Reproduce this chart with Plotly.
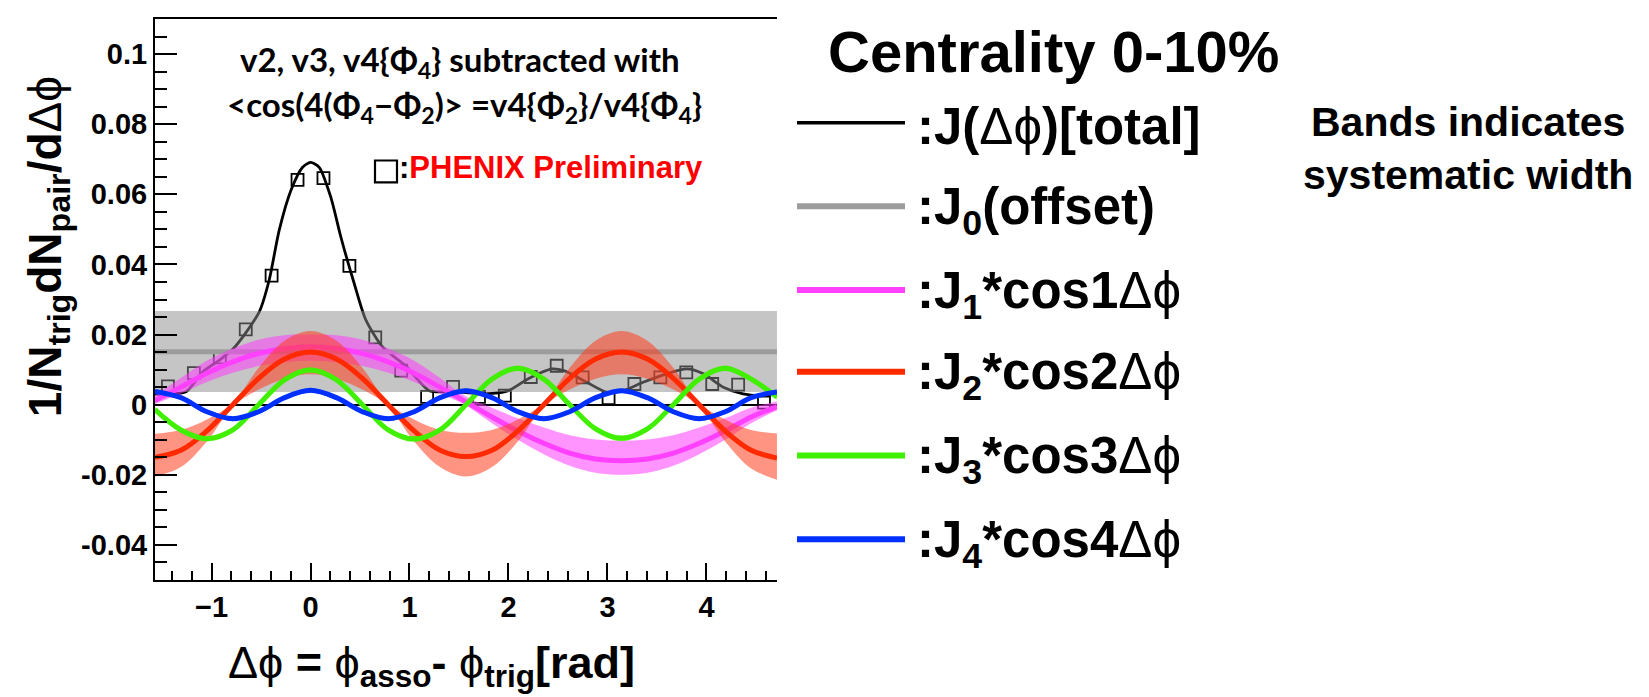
import plotly.graph_objects as go

# ---------------- data ----------------
DPHI = [-1.571, -1.309, -1.047, -0.785, -0.524, -0.262, 0.0, 0.262, 0.524, 0.785,
        1.047, 1.309, 1.571, 1.833, 2.094, 2.356, 2.618, 2.880, 3.142, 3.403,
        3.665, 3.927, 4.189, 4.451, 4.712]

# J1*cos1dphi (magenta) and its systematic band
J1 = [0.0012, 0.005, 0.009, 0.0122, 0.0146, 0.016, 0.0165, 0.016, 0.0146, 0.0122,
      0.009, 0.005, 0.0008, -0.0035, -0.0075, -0.011, -0.0138, -0.0155, -0.016, -0.0155,
      -0.0138, -0.011, -0.0075, -0.0035, -0.0006]
J1_UP = [0.0027, 0.0076, 0.0125, 0.016, 0.0185, 0.0198, 0.020, 0.0198, 0.0185, 0.016,
         0.0125, 0.0076, 0.0023, -0.0009, -0.0039, -0.0065, -0.0087, -0.0099, -0.0103, -0.0099,
         -0.0087, -0.0065, -0.0039, -0.0009, 0.0009]
J1_LO = [0.0002, 0.0032, 0.0065, 0.0091, 0.011, 0.0121, 0.0125, 0.0121, 0.011, 0.0091,
         0.0065, 0.0032, -0.0002, -0.0053, -0.010, -0.0141, -0.0174, -0.0194, -0.020, -0.0194,
         -0.0174, -0.0141, -0.010, -0.0053, -0.0016]

# J2*cos2dphi (red) and its systematic band
J2 = [-0.015, -0.013, -0.0075, 0.0, 0.0075, 0.013, 0.015, 0.013, 0.0075, 0.0,
      -0.0075, -0.013, -0.0148, -0.013, -0.0075, 0.0, 0.0075, 0.013, 0.015, 0.013,
      0.0075, 0.0, -0.0075, -0.013, -0.0152]
J2_UP = [-0.0083, -0.0072, -0.0042, 0.0005, 0.0105, 0.0182, 0.021, 0.0182, 0.0105, 0.0005,
         -0.0042, -0.0072, -0.008, -0.0072, -0.0042, 0.0005, 0.0105, 0.0182, 0.021, 0.0182,
         0.0105, 0.0005, -0.0042, -0.0072, -0.0082]
J2_LO = [-0.0205, -0.0178, -0.0105, -0.0005, 0.0043, 0.0074, 0.0087, 0.0074, 0.0043, -0.0005,
         -0.0105, -0.0178, -0.0205, -0.0178, -0.0105, -0.0005, 0.0043, 0.0074, 0.0087, 0.0074,
         0.0043, -0.0005, -0.0105, -0.0182, -0.0214]

# J3*cos3dphi (green)
J3 = [-0.0014, -0.0072, -0.0097, -0.0072, 0.0, 0.0071, 0.0099, 0.0071, 0.0, -0.0072,
      -0.0098, -0.0072, 0.0, 0.0073, 0.0104, 0.0073, 0.0, -0.0069, -0.0096, -0.0069,
      0.0, 0.0073, 0.0104, 0.0073, 0.0022]
J3_SYS = 0.0008

# J4*cos4dphi (blue)
J4 = [0.0038, 0.002, -0.002, -0.004, -0.002, 0.002, 0.0041, 0.002, -0.002, -0.004,
      -0.002, 0.002, 0.004, 0.002, -0.002, -0.004, -0.002, 0.002, 0.004, 0.002,
      -0.002, -0.004, -0.002, 0.002, 0.0036]
J4_SYS = 0.0006

# J0 offset and band
J0 = 0.0151
J0_UP = 0.0267
J0_LO = 0.0036

# total J(dphi) curve
TOTAL_X = [-1.571, -1.44, -1.257, -1.09, -0.916, -0.786, -0.654, -0.517, -0.416, -0.316,
           -0.198, -0.08, 0.0, 0.088, 0.205, 0.306, 0.44, 0.557, 0.73, 0.96,
           1.2, 1.43, 1.76, 2.0, 2.2, 2.44, 2.56, 2.79, 2.99, 3.16,
           3.36, 3.6, 3.8, 3.97, 4.17, 4.37, 4.54, 4.712]
TOTAL_Y = [0.003, 0.003, 0.0037, 0.0093, 0.0128, 0.0158, 0.0205, 0.0265, 0.0357, 0.0498,
           0.0611, 0.0677, 0.0691, 0.0677, 0.0592, 0.0479, 0.0347, 0.0243, 0.0164, 0.0111,
           0.004, 0.0037, 0.0031, 0.004, 0.0074, 0.0102, 0.0097, 0.0064, 0.0036, 0.004,
           0.0064, 0.0088, 0.0102, 0.0088, 0.005, 0.0031, 0.0026, 0.003]

# PHENIX preliminary data points (open squares)
BIN_X = [-1.440, -1.178, -0.916, -0.654, -0.393, -0.131, 0.131, 0.393, 0.654, 0.916,
         1.178, 1.440, 1.702, 1.963, 2.225, 2.487, 2.749, 3.011, 3.272, 3.534,
         3.796, 4.058, 4.320, 4.581]
BIN_Y = [0.0052, 0.009, 0.0135, 0.0215, 0.0368, 0.0641, 0.0646, 0.0396, 0.0192, 0.0097,
         0.0022, 0.0051, 0.0022, 0.0026, 0.0079, 0.0111, 0.0078, 0.0019, 0.0059, 0.0078,
         0.0092, 0.0059, 0.0057, 0.0006]

Y_TICKS = [-0.04, -0.02, 0.0, 0.02, 0.04, 0.06, 0.08, 0.1]
Y_TICKTEXT = ["-0.04", "-0.02", "0", "0.02", "0.04", "0.06", "0.08", "0.1"]

LEGEND_LABELS = [":J(Δϕ)[total]", ":J<sub>0</sub>(offset)", ":J<sub>1</sub>*cos1Δϕ",
                 ":J<sub>2</sub>*cos2Δϕ", ":J<sub>3</sub>*cos3Δϕ", ":J<sub>4</sub>*cos4Δϕ"]

# ---------------- styling ----------------
BLACK = "#000000"
GRAY = "#9c9c9c"
MAGENTA = "#ff40ff"
RED = "#ff2a00"
GREEN = "#40f000"
BLUE = "#0030ff"
LEG_COLORS = [BLACK, GRAY, MAGENTA, RED, GREEN, BLUE]
LEG_WIDTHS = [3.5, 6, 6, 6, 6, 6]

ARIAL = "Liberation Sans, Arial, sans-serif"
CALIBRI = "Lato, Carlito, Open Sans, sans-serif"

# plot area in pixels
L, R, T, B = 147, 769, 9, 572
W_PX, H_PX = 1649, 697


def PX(x):
    return (x - L) / (R - L)


def PY(y):
    return (B - y) / (B - T)


fig = go.Figure()

# total curve and data squares (drawn first; bands lie over them)
fig.add_trace(go.Scatter(x=TOTAL_X, y=TOTAL_Y, mode="lines",
                         line=dict(color=BLACK, width=2.8, shape="spline", smoothing=0.7),
                         showlegend=False, hoverinfo="skip"))
fig.add_trace(go.Scatter(x=BIN_X, y=BIN_Y, mode="markers",
                         marker=dict(symbol="square-open", size=12, color=BLACK,
                                     line=dict(width=1.8, color=BLACK)),
                         showlegend=False))

# J0 band and line
x_ends = [DPHI[0], DPHI[-1]]
fig.add_trace(go.Scatter(x=x_ends, y=[J0_LO, J0_LO], mode="lines", line=dict(width=0),
                         showlegend=False, hoverinfo="skip"))
fig.add_trace(go.Scatter(x=x_ends, y=[J0_UP, J0_UP], mode="lines", line=dict(width=0),
                         fill="tonexty", fillcolor="rgba(140,140,140,0.5)",
                         showlegend=False, hoverinfo="skip"))
fig.add_trace(go.Scatter(x=x_ends, y=[J0, J0], mode="lines",
                         line=dict(color=GRAY, width=5), showlegend=False))


def add_band(lo, up, fillcolor):
    fig.add_trace(go.Scatter(x=DPHI, y=lo, mode="lines",
                             line=dict(width=0, shape="spline", smoothing=1.0),
                             showlegend=False, hoverinfo="skip"))
    fig.add_trace(go.Scatter(x=DPHI, y=up, mode="lines",
                             line=dict(width=0, shape="spline", smoothing=1.0),
                             fill="tonexty", fillcolor=fillcolor,
                             showlegend=False, hoverinfo="skip"))


def add_line(y, color):
    fig.add_trace(go.Scatter(x=DPHI, y=y, mode="lines",
                             line=dict(color=color, width=5, shape="spline", smoothing=1.0),
                             showlegend=False))


add_band(J1_LO, J1_UP, "rgba(255,60,255,0.55)")
add_line(J1, MAGENTA)
add_band(J2_LO, J2_UP, "rgba(255,60,30,0.55)")
add_line(J2, RED)
add_band([v - J3_SYS for v in J3], [v + J3_SYS for v in J3], "rgba(80,240,0,0.55)")
add_line(J3, GREEN)
add_band([v - J4_SYS for v in J4], [v + J4_SYS for v in J4], "rgba(0,60,255,0.55)")
add_line(J4, BLUE)

tickfont = dict(family=ARIAL, size=29, color=BLACK, weight="bold")

fig.update_layout(
    width=W_PX, height=H_PX,
    margin=dict(l=L, r=W_PX - R, t=T, b=H_PX - B, pad=0),
    paper_bgcolor="white", plot_bgcolor="white",
    showlegend=False,
    xaxis=dict(range=[-1.5708, 4.7124], showgrid=False, zeroline=False,
               showline=True, linecolor=BLACK, linewidth=2, mirror=True,
               ticks="inside", ticklen=17, tickwidth=2, tickcolor=BLACK,
               tick0=0, dtick=1, tickfont=tickfont,
               minor=dict(ticks="inside", ticklen=9, tickwidth=1.5, tickcolor=BLACK,
                          tick0=0, dtick=0.2, showgrid=False)),
    yaxis=dict(range=[-0.05, 0.11], showgrid=False,
               zeroline=True, zerolinecolor=BLACK, zerolinewidth=1.5,
               showline=True, linecolor=BLACK, linewidth=2, mirror=False,
               ticks="inside", ticklen=22, tickwidth=2, tickcolor=BLACK,
               tickvals=Y_TICKS, ticktext=Y_TICKTEXT, tickfont=tickfont,
               minor=dict(ticks="inside", ticklen=12, tickwidth=1.5, tickcolor=BLACK,
                          tick0=0, dtick=0.005, showgrid=False)),
)

ann = []
# axis titles
ann.append(dict(text="1/N<sub>trig</sub>dN<sub>pair</sub>/d<span style='font-weight:normal'>Δϕ</span>",
                x=PX(40), y=PY(238), xref="paper", yref="paper", textangle=-90,
                showarrow=False, xanchor="center", yanchor="middle",
                font=dict(family=ARIAL, size=46, color=BLACK, weight="bold")))
ann.append(dict(text="<span style='font-weight:normal'>Δϕ</span> = <span style='font-weight:normal'>ϕ</span><sub>asso</sub>- <span style='font-weight:normal'>ϕ</span><sub>trig</sub>[rad]",
                x=PX(423), y=PY(658), xref="paper", yref="paper",
                showarrow=False, xanchor="center", yanchor="middle",
                font=dict(family=ARIAL, size=45, color=BLACK, weight="bold")))
# in-plot texts
ann.append(dict(text="v2, v3, v4{Φ<sub>4</sub>} subtracted with",
                x=PX(452), y=PY(52), xref="paper", yref="paper",
                showarrow=False, xanchor="center", yanchor="middle",
                font=dict(family=CALIBRI, size=33, color=BLACK, weight="bold")))
ann.append(dict(text="&lt;cos(4(Φ<sub>4</sub>−Φ<sub>2</sub>)&gt; =v4{Φ<sub>2</sub>}/v4{Φ<sub>4</sub>}",
                x=PX(456), y=PY(97), xref="paper", yref="paper",
                showarrow=False, xanchor="center", yanchor="middle",
                font=dict(family=CALIBRI, size=33, color=BLACK, weight="bold")))
ann.append(dict(text=":<span style='color:#ff0000'>PHENIX Preliminary</span>",
                x=PX(389), y=PY(158), xref="paper", yref="paper",
                showarrow=False, xanchor="left", yanchor="middle",
                font=dict(family=ARIAL, size=31, color=BLACK, weight="bold")))
# right side texts
ann.append(dict(text="Centrality 0-10%",
                x=PX(1045), y=PY(42), xref="paper", yref="paper",
                showarrow=False, xanchor="center", yanchor="middle",
                font=dict(family=ARIAL, size=58, color=BLACK, weight="bold")))
ann.append(dict(text="Bands indicates<br>systematic width",
                x=PX(1460), y=PY(139), xref="paper", yref="paper",
                showarrow=False, xanchor="center", yanchor="middle", align="center",
                font=dict(family=ARIAL, size=41, color=BLACK, weight="bold")))

ROW_Y = [113, 197, 281, 363, 447, 531]
shapes = []
for label, color, width, ry in zip(LEGEND_LABELS, LEG_COLORS, LEG_WIDTHS, ROW_Y):
    shapes.append(dict(type="line", xref="paper", yref="paper",
                       x0=PX(789), x1=PX(897), y0=PY(ry), y1=PY(ry),
                       line=dict(color=color, width=width)))
    ann.append(dict(text=label.replace("Δϕ", "<span style='font-weight:normal'>Δϕ</span>"),
                    x=PX(907), y=PY(ry + 4), xref="paper", yref="paper",
                    showarrow=False, xanchor="left", yanchor="middle",
                    font=dict(family=ARIAL, size=51, color=BLACK, weight="bold")))

# open square in "[] : PHENIX Preliminary"
shapes.append(dict(type="rect", xref="paper", yref="paper",
                   x0=PX(367), x1=PX(389), y0=PY(151), y1=PY(173),
                   line=dict(color=BLACK, width=2.2), fillcolor="rgba(0,0,0,0)"))

fig.update_layout(annotations=ann, shapes=shapes)

fig.write_html("out.html")
